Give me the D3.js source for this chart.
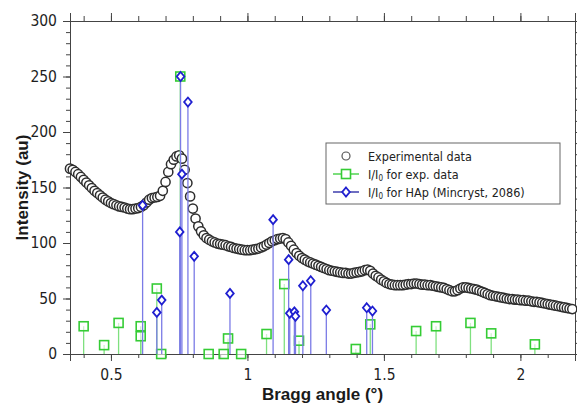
<!DOCTYPE html>
<html>
<head>
<meta charset="utf-8">
<script src="https://cdn.jsdelivr.net/npm/d3@7"></script>
<style>
    body { margin: 0; background: #fff; }
    #graph { width: 577px; height: 405px; }
    .tick-label { font-family: "DejaVu Sans Condensed", "Liberation Sans", sans-serif; font-size: 15.5px; fill: #1e1e1e; }
    .axis-title { font-family: "Liberation Sans", sans-serif; font-size: 17px; font-weight: bold; fill: #1a1a1a; }
    .legend-text { font-family: "DejaVu Sans Condensed", "Liberation Sans", sans-serif; font-size: 12.5px; fill: #222; }
</style>
</head>
<body>
<div id="graph"></div>
<script>
// experimental XRD pattern (Bragg angle in degrees, intensity in a.u.)
var expAngle = [
    0.35, 0.36, 0.37, 0.38, 0.39, 0.40, 0.41, 0.42, 0.43, 0.44,
    0.45, 0.46, 0.47, 0.48, 0.49, 0.50, 0.51, 0.52, 0.53, 0.54,
    0.55, 0.56, 0.57, 0.58, 0.59, 0.60, 0.61, 0.62, 0.63, 0.64,
    0.65, 0.66, 0.67, 0.68, 0.69, 0.70, 0.71, 0.72, 0.73, 0.74,
    0.75, 0.76, 0.77, 0.78, 0.79, 0.80, 0.81, 0.82, 0.83, 0.84,
    0.85, 0.86, 0.87, 0.88, 0.89, 0.90, 0.91, 0.92, 0.93, 0.94,
    0.95, 0.96, 0.97, 0.98, 0.99, 1.00, 1.01, 1.02, 1.03, 1.04,
    1.05, 1.06, 1.07, 1.08, 1.09, 1.10, 1.11, 1.12, 1.13, 1.14,
    1.15, 1.16, 1.17, 1.18, 1.19, 1.20, 1.21, 1.22, 1.23, 1.24,
    1.25, 1.26, 1.27, 1.28, 1.29, 1.30, 1.31, 1.32, 1.33, 1.34,
    1.35, 1.36, 1.37, 1.38, 1.39, 1.40, 1.41, 1.42, 1.43, 1.44,
    1.45, 1.46, 1.47, 1.48, 1.49, 1.50, 1.51, 1.52, 1.53, 1.54,
    1.55, 1.56, 1.57, 1.58, 1.59, 1.60, 1.61, 1.62, 1.63, 1.64,
    1.65, 1.66, 1.67, 1.68, 1.69, 1.70, 1.71, 1.72, 1.73, 1.74,
    1.75, 1.76, 1.77, 1.78, 1.79, 1.80, 1.81, 1.82, 1.83, 1.84,
    1.85, 1.86, 1.87, 1.88, 1.89, 1.90, 1.91, 1.92, 1.93, 1.94,
    1.95, 1.96, 1.97, 1.98, 1.99, 2.00, 2.01, 2.02, 2.03, 2.04,
    2.05, 2.06, 2.07, 2.08, 2.09, 2.10, 2.11, 2.12, 2.13, 2.14,
    2.15, 2.16, 2.17, 2.18, 2.19
];
var expIntensity = [
    167, 166, 164, 162, 159.5, 157, 154.5, 152, 149.5, 147,
    145, 143, 141, 139, 137.5, 136, 135, 134, 133, 132.5,
    132, 131, 130.5, 130.5, 131, 131.5, 132.5, 134, 136.5, 139,
    140.5, 141, 141.5, 142.5, 147, 155, 164, 171, 175, 178,
    179, 176, 166, 154, 142, 131, 122, 115, 110.5, 107,
    104.5, 103, 101.5, 100.5, 99.5, 99, 98.5, 98, 97, 96.5,
    95.5, 95, 94.5, 94, 93.5, 93.5, 93.5, 94, 94.5, 95,
    96, 97, 98.5, 100, 101.5, 102.5, 103.5, 104, 104.5, 103.5,
    100.5, 97.5, 94, 91, 88.5, 86.5, 85, 83.5, 82.5, 81.5,
    80.5, 79.5, 78.5, 77.5, 76.5, 75.5, 75, 74.5, 74, 73.5,
    73, 73, 72.5, 72.5, 73, 73.5, 74, 74.5, 75.5, 76,
    75, 72.5, 70.5, 69, 67, 65.5, 64, 63, 62.5, 62,
    62, 62, 62, 62.5, 63, 63, 63.5, 63.5, 63, 62.5,
    62.5, 62, 62, 61.5, 61, 60.5, 60, 59.5, 58.5, 57.5,
    56.5, 56.5, 57.5, 59, 60, 60, 59.5, 59, 58.5, 58,
    57, 56, 55, 54, 53, 52.5, 52, 51.5, 51, 50.5,
    50, 49.5, 49.5, 49, 49, 48.5, 48.5, 48, 48, 47.5,
    47, 47, 46.5, 46, 45.5, 45, 44.5, 44, 43.5, 43,
    42.5, 42, 41.5, 41, 40.5
];

// I/I0
var expPeakAngle = [0.400, 0.475, 0.528, 0.609, 0.609, 0.668, 0.684, 0.754, 0.858, 0.913, 0.929,
                    0.977, 1.070, 1.135, 1.189, 1.397, 1.450, 1.618, 1.691, 1.817, 1.893, 2.053];
var expPeakRel = [25, 8, 28, 25, 16, 59, 0, 250, 0, 0, 14,
                  0, 18, 63, 12, 4.5, 26.7, 20.7, 25, 28, 18.6, 8.7];

// I/I0 for HAp (Mincryst, 2086)
var hapAngle = [0.616, 0.668, 0.686, 0.752, 0.755, 0.760, 0.782, 0.805, 0.936, 1.094,
                1.151, 1.155, 1.172, 1.176, 1.203, 1.232, 1.289, 1.437, 1.458];
var hapRel = [134, 37.5, 48.6, 110, 250, 162, 227, 88, 54.6, 121,
              85, 36.6, 38, 34, 61.5, 66, 39.6, 41.7, 38.7];

var xMajorTicks = [0.5, 1, 1.5, 2];
var xTickLabels = ["0.5", "1", "1.5", "2"];
var yMajorTicks = [0, 50, 100, 150, 200, 250, 300];

var legendLabels = ["Experimental data", "I/I0 for exp. data", "I/I0 for HAp (Mincryst, 2086)"];

function load() {
    var width = 577;
    var height = 405;
    var margin = {left: 70, right: 2, top: 21, bottom: 51};

    var svg = d3.select("#graph")
        .append("svg")
        .attr("width", width)
        .attr("height", height);

    var x = d3.scaleLinear().domain([0.35, 2.2]).range([margin.left, width - margin.right]);
    var y = d3.scaleLinear().domain([0, 300]).range([height - margin.bottom, margin.top]);

    var axisColor = "#444";
    var greenStem = "#7fe07f", greenMark = "#35cc35";
    var blueStem = "#7b7be6", blueMark = "#1f1fd0";

    var xMinor = d3.range(4, 23).map(function(d) { return d / 10; });
    var yMinor = d3.range(0, 31).map(function(d) { return d * 10; });

    function styleAxis(g) {
        g.select(".domain").attr("stroke", axisColor);
        g.selectAll(".tick line").attr("stroke", axisColor);
    }

    // axes: minor ticks first, then major with labels
    var gxMinor = svg.append("g")
        .attr("transform", "translate(0," + y(0) + ")")
        .call(d3.axisBottom(x).tickValues(xMinor).tickSize(4).tickFormat(""));
    styleAxis(gxMinor);
    var gx = svg.append("g")
        .attr("transform", "translate(0," + y(0) + ")")
        .call(d3.axisBottom(x).tickValues(xMajorTicks).tickSize(7).tickPadding(8)
              .tickFormat(function(d, i) { return xTickLabels[i]; }));
    styleAxis(gx);
    gx.selectAll("text").attr("class", "tick-label").attr("font-family", null).attr("font-size", null);

    var gxTop = svg.append("g")
        .attr("transform", "translate(0," + y(300) + ")")
        .call(d3.axisTop(x).tickValues(xMinor).tickSize(5).tickFormat(""));
    styleAxis(gxTop);
    var gxTopMajor = svg.append("g")
        .attr("transform", "translate(0," + y(300) + ")")
        .call(d3.axisTop(x).tickValues(xMajorTicks).tickSize(8).tickFormat(""));
    styleAxis(gxTopMajor);

    var gyMinor = svg.append("g")
        .attr("transform", "translate(" + margin.left + ",0)")
        .call(d3.axisLeft(y).tickValues(yMinor).tickSize(4).tickFormat(""));
    styleAxis(gyMinor);
    var gy = svg.append("g")
        .attr("transform", "translate(" + margin.left + ",0)")
        .call(d3.axisLeft(y).tickValues(yMajorTicks).tickSize(7).tickPadding(6));
    styleAxis(gy);
    gy.selectAll("text").attr("class", "tick-label").attr("font-family", null).attr("font-size", null);

    var gyRight = svg.append("g")
        .attr("transform", "translate(" + x(2.2) + ",0)")
        .call(d3.axisRight(y).tickValues(yMinor).tickSize(4).tickFormat(""));
    styleAxis(gyRight);

    // axis titles
    svg.append("text")
        .attr("class", "axis-title")
        .attr("text-anchor", "middle")
        .attr("x", (x.range()[0] + x.range()[1]) / 2)
        .attr("y", 400)
        .text("Bragg angle (°)");
    svg.append("text")
        .attr("class", "axis-title")
        .attr("text-anchor", "middle")
        .attr("transform", "translate(28," + (y(0) + y(300)) / 2 + ") rotate(-90)")
        .text("Intensity (au)");

    // experimental data (open circles)
    var expData = expAngle.map(function(a, i) { return {angle: a, value: expIntensity[i]}; });
    svg.append("g").attr("class", "exp")
        .selectAll("circle")
        .data(expData)
        .enter()
        .append("circle")
        .attr("cx", function(d) { return x(d.angle); })
        .attr("cy", function(d) { return y(d.value); })
        .attr("r", 4.6)
        .attr("fill", "#fff")
        .attr("stroke", "#2e2e2e")
        .attr("stroke-width", 1.5);

    // I/I0 for exp. data (green stems + squares)
    var expPeaks = expPeakAngle.map(function(a, i) { return {angle: a, value: expPeakRel[i]}; });
    var gGreen = svg.append("g").attr("class", "exp-peaks");
    gGreen.selectAll("line")
        .data(expPeaks)
        .enter()
        .append("line")
        .attr("x1", function(d) { return x(d.angle); })
        .attr("x2", function(d) { return x(d.angle); })
        .attr("y1", y(0))
        .attr("y2", function(d) { return y(d.value); })
        .attr("stroke", greenStem)
        .attr("stroke-width", 1.3);
    gGreen.selectAll("rect")
        .data(expPeaks)
        .enter()
        .append("rect")
        .attr("x", function(d) { return x(d.angle) - 4.5; })
        .attr("y", function(d) { return y(d.value) - 4.5; })
        .attr("width", 9)
        .attr("height", 9)
        .attr("fill", "#fff")
        .attr("fill-opacity", 0.6)
        .attr("stroke", greenMark)
        .attr("stroke-width", 1.6);

    // I/I0 for HAp (blue stems + diamonds)
    var hapPeaks = hapAngle.map(function(a, i) { return {angle: a, value: hapRel[i]}; });
    var diamond = "M0,-4.5L3.8,0L0,4.5L-3.8,0Z";
    var gBlue = svg.append("g").attr("class", "hap-peaks");
    gBlue.selectAll("line")
        .data(hapPeaks)
        .enter()
        .append("line")
        .attr("x1", function(d) { return x(d.angle); })
        .attr("x2", function(d) { return x(d.angle); })
        .attr("y1", y(0))
        .attr("y2", function(d) { return y(d.value); })
        .attr("stroke", blueStem)
        .attr("stroke-width", 1.3);
    gBlue.selectAll("path")
        .data(hapPeaks)
        .enter()
        .append("path")
        .attr("d", diamond)
        .attr("transform", function(d) { return "translate(" + x(d.angle) + "," + y(d.value) + ")"; })
        .attr("fill", "#fff")
        .attr("stroke", blueMark)
        .attr("stroke-width", 1.8);

    // legend
    var legend = svg.append("g").attr("transform", "translate(326,143)");
    legend.append("rect")
        .attr("width", 234)
        .attr("height", 61)
        .attr("fill", "#fff")
        .attr("stroke", "#666")
        .attr("stroke-width", 1);
    var rowY = [13, 31, 49];
    legend.append("circle")
        .attr("cx", 20).attr("cy", rowY[0]).attr("r", 4)
        .attr("fill", "#fff").attr("stroke", "#555").attr("stroke-width", 1.2);
    legend.append("line")
        .attr("x1", 7).attr("x2", 33).attr("y1", rowY[1]).attr("y2", rowY[1])
        .attr("stroke", greenMark).attr("stroke-width", 1.3);
    legend.append("rect")
        .attr("x", 15.5).attr("y", rowY[1] - 4.5).attr("width", 9).attr("height", 9)
        .attr("fill", "#fff").attr("stroke", greenMark).attr("stroke-width", 1.6);
    legend.append("line")
        .attr("x1", 7).attr("x2", 33).attr("y1", rowY[2]).attr("y2", rowY[2])
        .attr("stroke", "#2020a0").attr("stroke-width", 1.3);
    legend.append("path")
        .attr("d", diamond)
        .attr("transform", "translate(20," + rowY[2] + ")")
        .attr("fill", "#fff").attr("stroke", blueMark).attr("stroke-width", 1.8);

    legendLabels.forEach(function(label, i) {
        var t = legend.append("text")
            .attr("class", "legend-text")
            .attr("x", 42)
            .attr("y", rowY[i] + 4.5);
        if (label.indexOf("I/I0") === 0) {
            t.append("tspan").text("I/I");
            t.append("tspan").attr("font-size", "8px").attr("dy", 2).text("0");
            t.append("tspan").attr("dy", -2).text(label.slice(4));
        } else {
            t.text(label);
        }
    });

    return svg;
}

load();
</script>
</body>
</html>
